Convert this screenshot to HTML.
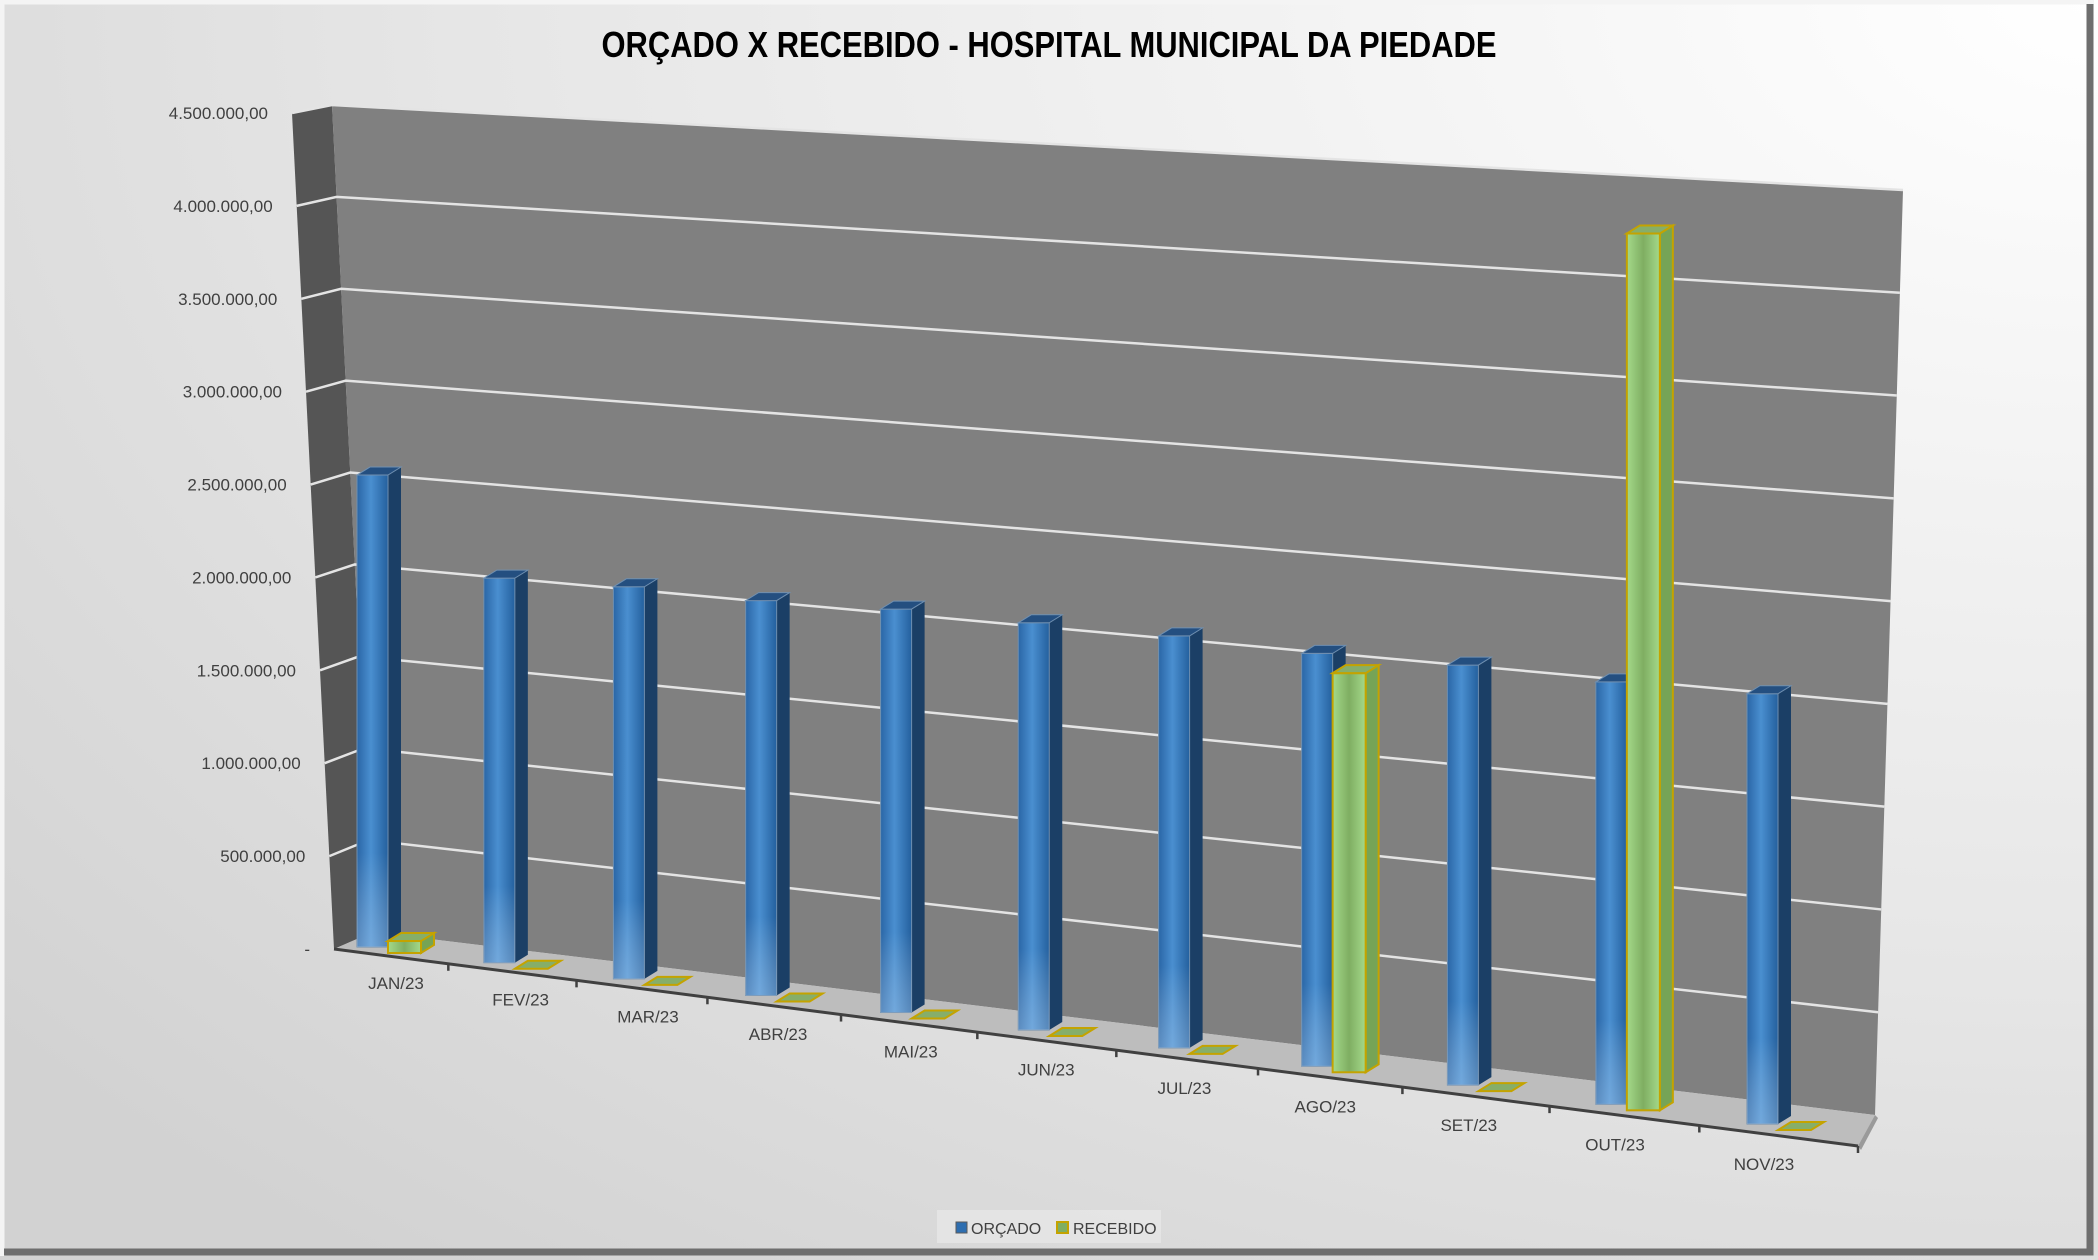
<!DOCTYPE html>
<html><head><meta charset="utf-8"><style>
html,body{margin:0;padding:0;background:#fff;}
svg{display:block;}
text{font-family:"Liberation Sans",sans-serif;}
</style></head><body>
<svg id="chart" width="2098" height="1260" viewBox="0 0 2098 1260" xmlns="http://www.w3.org/2000/svg">
<defs>
<radialGradient id="bg" cx="1" cy="0" r="1.3">
<stop offset="0" stop-color="#ffffff"/><stop offset="0.6" stop-color="#e6e6e6"/><stop offset="1" stop-color="#d2d2d2"/>
</radialGradient>
<linearGradient id="blueFront" x1="0" x2="1" y1="0" y2="0">
<stop offset="0" stop-color="#2a66a6"/><stop offset="0.45" stop-color="#4a8fd0"/><stop offset="1" stop-color="#24609e"/>
</linearGradient>
<linearGradient id="blueShine" x1="0" x2="0" y1="0" y2="1">
<stop offset="0" stop-color="#ffffff" stop-opacity="0"/><stop offset="0.8" stop-color="#ffffff" stop-opacity="0"/><stop offset="1" stop-color="#cfe4fa" stop-opacity="0.3"/>
</linearGradient>
<linearGradient id="greenFront" x1="0" x2="1" y1="0" y2="0">
<stop offset="0" stop-color="#a4d98a"/><stop offset="0.5" stop-color="#7fae62"/><stop offset="1" stop-color="#a4d98a"/>
</linearGradient>
</defs>
<rect x="0" y="0" width="2098" height="1260" fill="url(#bg)"/>
<path d="M2 1256 L2 2 L2094 2" fill="none" stroke="#f4f4f4" stroke-width="5"/>
<path d="M4 1252 L2090 1252 L2090 4" fill="none" stroke="#6e6e6e" stroke-width="7"/>
<text x="1049" y="57" text-anchor="middle" font-size="36" font-weight="bold" fill="#000" textLength="895" lengthAdjust="spacingAndGlyphs">ORÇADO X RECEBIDO - HOSPITAL MUNICIPAL DA PIEDADE</text>
<polygon points="292,113 332,105 373,932 334,949" fill="#555555"/>
<polygon points="332,105 1903,190 1875,1115 373,932" fill="#808080"/>
<polygon points="334,949 373,932 1875,1115 1858,1146" fill="#bdbdbd"/>
<polygon points="1858,1146 1875,1115 1878,1118 1861,1150" fill="#9a9a9a"/>
<g id="grid"></g>
<g id="yaxis"></g>
<line x1="334" y1="949" x2="1858" y2="1146" stroke="#404040" stroke-width="3"/>
<g id="xaxis"></g>
<g id="bars"></g>
<g>
<rect x="937" y="1210" width="224" height="33" fill="#ebebeb" opacity="0.6"/>
<g>
<rect x="956" y="1222" width="11" height="11" fill="#2e6eb0" stroke="#5a5a5a" stroke-width="1"/>
<text x="971" y="1234" font-size="16" fill="#404040">ORÇADO</text>
</g>
<g>
<rect x="1057" y="1222" width="11" height="11" fill="#7fae62" stroke="#c4a300" stroke-width="2"/>
<text x="1073" y="1234" font-size="16" fill="#404040">RECEBIDO</text>
</g>
</g>
</svg>
<script>
const categories = ["JAN/23","FEV/23","MAR/23","ABR/23","MAI/23","JUN/23","JUL/23","AGO/23","SET/23","OUT/23","NOV/23"];
const orcado = [2565000,2070000,2090000,2085000,2110000,2110000,2115000,2100000,2117000,2110000,2130000];
const recebido = [65000,0,0,0,0,0,0,2030000,0,4380000,0];
const yTicks = [0,500000,1000000,1500000,2000000,2500000,3000000,3500000,4000000,4500000];
const yTickLabels = ["-","500.000,00","1.000.000,00","1.500.000,00","2.000.000,00","2.500.000,00","3.000.000,00","3.500.000,00","4.000.000,00","4.500.000,00"];
const YMAX = 4500000;
const NS = "http://www.w3.org/2000/svg";
function mk(tag, attrs, parent){const e=document.createElementNS(NS,tag);for(const k in attrs)e.setAttribute(k,attrs[k]);parent.appendChild(e);return e;}
function lerp(a,b,t){return [a[0]+(b[0]-a[0])*t,a[1]+(b[1]-a[1])*t];}
const TL=[332,105],TR=[1903,190],BR=[1875,1115],BL=[373,932],SF=[334,949],ST=[292,113];
const grid=document.getElementById('grid'), yax=document.getElementById('yaxis');
yTicks.forEach((v,j)=>{
  const t=v/YMAX;
  const pl=lerp(BL,TL,t), pr=lerp(BR,TR,t), pf=lerp(SF,ST,t);
  if(v>0){
    const g=mk('polyline',{points:`${pf[0]},${pf[1]} ${pl[0]},${pl[1]} ${pr[0]},${pr[1]}`,fill:'none',stroke:'#e4e4e4','stroke-width':2.5},grid);
    
    
  }
  const tx=mk('text',{x:pf[0]-24,y:pf[1]+6,'text-anchor':'end','font-size':17,fill:'#404040'},yax);
  
  
  tx.textContent=yTickLabels[j];
});
function xo(i){return 357+125.5*i+1.35*i*i;}
function yb(i){return 947+15.5*i+0.22*i*i;}
function kpx(i){return (92+0.9*i)/500000;}
const W=31, DX=13, DY=-8;
const bars=document.getElementById('bars');
function drawBar(x,base,h,w,kind,name){
  const g=mk('g',{},bars);
  
  
  const top=base-h;
  const blue=kind==='o';
  const stroke=blue?'#6f8fb0':'#c4a300';
  const sw=blue?1:2;
  if(h>0.5){
    mk('polygon',{points:`${x+w},${top} ${x+w+DX},${top+DY} ${x+w+DX},${base+DY} ${x+w},${base}`,fill:blue?'#1b3f66':'#76a456',stroke:blue?'none':stroke,'stroke-width':sw},g);
    mk('rect',{x:x,y:top,width:w,height:h,fill:blue?'url(#blueFront)':'url(#greenFront)',stroke:stroke,'stroke-width':sw},g);
    if(blue) mk('rect',{x:x,y:top,width:w,height:h,fill:'url(#blueShine)'},g);
  }
  mk('polygon',{points:`${x},${top} ${x+w},${top} ${x+w+DX},${top+DY} ${x+DX},${top+DY}`,fill:blue?'#244f80':'#86ae6a',stroke:stroke,'stroke-width':sw},g);
}
categories.forEach((c,i)=>{
  const x=xo(i), b=yb(i), k=kpx(i);
  drawBar(x,b,orcado[i]*k,W,'o','bar-orcado-'+c.toLowerCase().replace('/','-'));
  drawBar(x+W,b+6,recebido[i]*k,W+2,'r','bar-recebido-'+c.toLowerCase().replace('/','-'));
});
const xax=document.getElementById('xaxis');
function frontY(x){return 949+(x-334)*(197/1524);}
categories.forEach((c,i)=>{
  const lx=xo(i)+39-2.2*i, ly=983+16.5*i+0.16*i*i;
  const t=mk('text',{x:lx,y:ly+6,'text-anchor':'middle','font-size':17,fill:'#404040'},xax);
  
  
  t.textContent=c;
  const tx = i<categories.length-1 ? (xo(i)+xo(i+1))/2+ W*0.9 : 1858;
  const ty=frontY(tx);
  const tk=mk('line',{x1:tx,y1:ty,x2:tx,y2:ty+7,stroke:'#404040','stroke-width':2.5},xax);
  
  
});
</script>
</body></html>
